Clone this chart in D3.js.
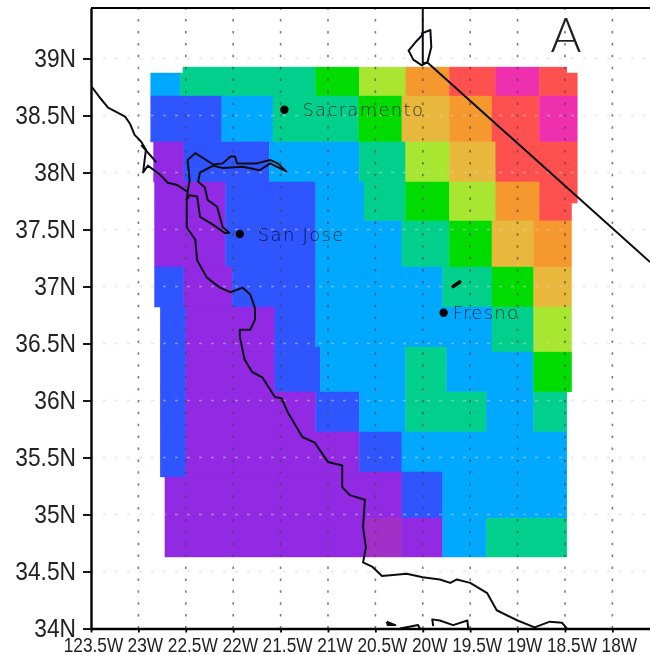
<!DOCTYPE html>
<html>
<head>
<meta charset="utf-8">
<script src="https://cdn.jsdelivr.net/npm/d3@7"></script>
<style>
    html, body { margin: 0; padding: 0; background: #fff; }
    svg { display: block; filter: blur(0.45px); }
    .tick-label { font-family: "Liberation Sans", Arial, sans-serif; fill: #222; }
    .city { font-family: "DejaVu Sans", sans-serif; font-size: 18px; letter-spacing: 1.3px; fill: #000; fill-opacity: 0.75; font-weight: 200; }
</style>
</head>
<body>
<div id="chart"></div>
<script>
// class colours, low to high
const levelColors = ["#a32fc9", "#9229e3", "#2e55ff", "#00a8ff", "#00d08c", "#00dc00", "#a8e632", "#e8b83c", "#f5982e", "#ff5050", "#ee2fae"];

const lonTicks = [123.5, 123, 122.5, 122, 121.5, 121, 120.5, 120, 119.5, 119, 118.5, 118];
const lonLabels = ["123.5W", "23W", "22.5W", "22W", "21.5W", "21W", "20.5W", "20W", "19.5W", "19W", "18.5W", "18W"];
const latTicks = [34, 34.5, 35, 35.5, 36, 36.5, 37, 37.5, 38, 38.5, 39];
const latLabels = ["34N", "34.5N", "35N", "35.5N", "36N", "36.5N", "37N", "37.5N", "38N", "38.5N", "39N"];

// grid rows, north to south: latitude edges, then lon edges and class per row
const rowLats = [38.925, 38.873, 38.671, 38.268, 37.917, 37.732, 37.575, 37.171, 36.82, 36.469, 36.425, 36.075, 35.724, 35.373, 35.329, 34.969, 34.627];
const rowLons = [
    [122.53, 121.13, 120.67, 120.18, 119.72, 119.23, 118.77, 118.48],
    [122.87, 122.56, 121.13, 120.67, 120.18, 119.72, 119.23, 118.77, 118.37],
    [122.87, 122.12, 121.58, 120.68, 120.22, 119.72, 119.27, 118.77, 118.37],
    [122.84, 122.52, 121.62, 120.67, 120.18, 119.72, 119.23, 118.37],
    [122.83, 122.08, 121.13, 120.62, 120.18, 119.72, 119.23, 118.77, 118.37],
    [122.83, 122.08, 121.13, 120.62, 120.18, 119.72, 119.23, 118.77, 118.43],
    [122.83, 122.08, 121.13, 120.22, 119.72, 119.27, 118.83, 118.43],
    [122.83, 122.52, 122.01, 121.13, 119.79, 119.27, 118.83, 118.43],
    [122.77, 122.5, 121.56, 121.13, 119.27, 118.83, 118.43],
    [122.77, 122.5, 121.56, 121.08, 120.18, 119.75, 119.27, 118.83, 118.43],
    [122.77, 122.5, 121.56, 121.08, 120.18, 119.75, 118.83, 118.43],
    [122.77, 122.5, 121.13, 120.67, 120.18, 119.33, 118.83, 118.48],
    [122.77, 122.5, 120.67, 120.22, 118.48],
    [122.77, 122.5, 120.22, 119.79, 118.48],
    [122.72, 120.22, 119.79, 118.48],
    [122.72, 120.6, 120.22, 119.79, 119.33, 118.48]
];
const rowLevels = [
    [4, 5, 6, 8, 9, 10, 9],
    [3, 4, 5, 6, 8, 9, 10, 9],
    [2, 3, 4, 5, 7, 8, 9, 10],
    [1, 2, 3, 4, 6, 7, 9],
    [1, 2, 3, 4, 5, 6, 8, 9],
    [1, 2, 3, 4, 5, 6, 8, 9],
    [1, 2, 3, 4, 5, 7, 8],
    [2, 1, 2, 3, 4, 5, 7],
    [2, 1, 2, 3, 4, 6],
    [2, 1, 2, 3, 4, 3, 4, 6],
    [2, 1, 2, 3, 4, 3, 5],
    [2, 1, 2, 3, 4, 3, 4],
    [2, 1, 2, 3],
    [2, 1, 2, 3],
    [1, 2, 3],
    [1, 0, 1, 3, 4]
];

// map outlines as [west lon, north lat]
const coast = [[123.49, 38.75], [123.41, 38.66], [123.32, 38.57], [123.14, 38.49], [123.09, 38.43], [123.04, 38.33], [122.97, 38.27], [122.92, 38.2], [122.93, 38.14], [122.95, 38.0], [122.9, 38.06], [122.77, 37.98], [122.69, 37.91], [122.59, 37.89], [122.48, 37.83], [122.49, 37.76], [122.49, 37.52], [122.4, 37.41], [122.38, 37.23], [122.28, 37.08], [122.14, 36.99], [122.03, 36.95], [121.9, 36.99], [121.82, 36.93], [121.77, 36.81], [121.77, 36.71], [121.82, 36.62], [121.93, 36.62], [121.93, 36.56], [121.88, 36.36], [121.8, 36.25], [121.69, 36.2], [121.56, 36.03], [121.49, 36.02], [121.42, 35.89], [121.27, 35.68], [121.14, 35.63], [121.0, 35.46], [120.85, 35.43], [120.85, 35.24], [120.77, 35.17], [120.61, 35.13], [120.63, 34.89], [120.6, 34.71], [120.63, 34.58], [120.53, 34.54], [120.43, 34.46], [120.17, 34.48], [120.0, 34.45], [119.82, 34.43], [119.71, 34.4], [119.64, 34.43], [119.5, 34.4], [119.32, 34.31], [119.22, 34.16], [119.0, 34.07], [118.82, 34.01], [118.66, 34.06], [118.53, 34.05], [118.48, 34.0]];
const bay = [[122.48, 37.83], [122.46, 37.93], [122.48, 38.11], [122.4, 38.17], [122.21, 38.07], [122.11, 38.08], [122.03, 38.14], [121.98, 38.14], [121.96, 38.08], [121.75, 38.08], [121.61, 38.11], [121.53, 38.08], [121.44, 38.01], [121.61, 38.08], [121.72, 38.02], [121.9, 38.05], [122.11, 38.04], [122.21, 38.06], [122.35, 38.0], [122.37, 37.92], [122.3, 37.87], [122.27, 37.76], [122.17, 37.7], [122.11, 37.52], [122.04, 37.47], [122.09, 37.47], [122.21, 37.54], [122.35, 37.61], [122.38, 37.79], [122.46, 37.8], [122.49, 37.76]];
const tomales = [[122.97, 38.24], [122.81, 38.09]];
const islandA = [[120.38, 34.06], [120.29, 34.03], [120.37, 34.03], [120.38, 34.06]];
const islandB = [[120.24, 34.0], [120.05, 34.03], [120.03, 34.0]];
const islandC = [[119.89, 34.02], [119.9, 34.08], [119.82, 34.07], [119.68, 34.03], [119.53, 34.07], [119.52, 34.0]];
const stateLine = [[120.0, 39.443], [120.0, 38.96], [119.945, 38.96], [117.603, 37.215]];
const tahoe = [[120.0, 39.21], [120.08, 39.14], [120.15, 39.07], [120.1, 38.99], [120.01, 38.94], [119.95, 38.97], [119.91, 39.1], [119.92, 39.25], [120.01, 39.22], [120.0, 39.21]];
const lake = [[119.68, 37.0], [119.61, 37.04]];

const cityNames = ["Sacramento", "San Jose", "Fresno"];
const cityLons = [121.46, 121.93, 119.78];
const cityLats = [38.55, 37.46, 36.77];
const cityLabelDx = [18, 18, 9];

const width = 650, height = 655;

let svg = d3.select('#chart').append('svg')
    .attr('width', width)
    .attr('height', height);

let x = d3.scaleLinear().domain([123.5, 117.603]).range([91, 650]);
let y = d3.scaleLinear().domain([34, 39.443]).range([628.5, 8]);
let color = d3.scaleOrdinal().domain(d3.range(levelColors.length)).range(levelColors);

// flatten the rows into cells
let cells = [];
rowLevels.forEach((levels, r) => {
    levels.forEach((level, i) => {
        cells.push({
            west: rowLons[r][i],
            east: rowLons[r][i + 1],
            north: rowLats[r],
            south: rowLats[r + 1],
            level: level
        });
    });
});

svg.append('g')
    .selectAll('rect')
    .data(cells)
    .enter()
    .append('rect')
    .attr('x', d => x(d.west))
    .attr('y', d => y(d.north))
    .attr('width', d => x(d.east) - x(d.west))
    .attr('height', d => y(d.south) - y(d.north))
    .attr('fill', d => color(d.level))
    .attr('stroke', d => color(d.level))
    .attr('stroke-width', 0.4);

// dotted grid
let grid = svg.append('g');
grid.selectAll('.hgrid')
    .data(latTicks.slice(1))
    .enter()
    .append('line')
    .attr('class', 'hgrid')
    .attr('x1', x(123.5)).attr('x2', width)
    .attr('y1', d => y(d)).attr('y2', d => y(d))
    .attr('stroke', '#d8d2d8')
    .attr('stroke-opacity', 0.5)
    .attr('stroke-width', 1.5)
    .attr('stroke-dasharray', '3 9');
grid.selectAll('.vgrid')
    .data(lonTicks.slice(1))
    .enter()
    .append('line')
    .attr('class', 'vgrid')
    .attr('x1', d => x(d)).attr('x2', d => x(d))
    .attr('y1', y(34)).attr('y2', y(39.443))
    .attr('stroke', '#444')
    .attr('stroke-opacity', 0.7)
    .attr('stroke-width', 1.6)
    .attr('stroke-dasharray', '2.5 9.4');

// map lines
let line = d3.line().x(d => x(d[0])).y(d => y(d[1]));
let outlines = [coast, bay, tomales, islandA, islandB, islandC, stateLine, tahoe];
svg.append('g')
    .selectAll('path')
    .data(outlines)
    .enter()
    .append('path')
    .attr('d', line)
    .attr('fill', 'none')
    .attr('stroke', '#0c0c14')
    .attr('stroke-width', 2)
    .attr('stroke-linejoin', 'round');
svg.append('path')
    .attr('d', line(lake))
    .attr('stroke', '#000')
    .attr('stroke-width', 3.5)
    .attr('stroke-linecap', 'round');

// cities
let cities = svg.append('g')
    .selectAll('g')
    .data(cityNames)
    .enter()
    .append('g')
    .attr('transform', (d, i) => 'translate(' + x(cityLons[i]) + ',' + y(cityLats[i]) + ')');
cities.append('circle')
    .attr('r', 4.2)
    .attr('fill', '#000');
cities.append('text')
    .attr('class', 'city')
    .attr('x', (d, i) => cityLabelDx[i])
    .attr('dy', '0.36em')
    .text(d => d);

// panel letter
svg.append('text')
    .attr('x', 566)
    .attr('y', 52)
    .attr('text-anchor', 'middle')
    .style('font-family', '"Lato", sans-serif')
    .style('font-size', '47px')
    .style('font-weight', 300)
    .style('fill', '#222')
    .text('A');

// axes
let xAxis = svg.append('g')
    .attr('transform', 'translate(0,' + y(34) + ')')
    .call(d3.axisBottom(x).tickValues(lonTicks).tickFormat((d, i) => lonLabels[i]).tickSize(4).tickSizeOuter(0));
xAxis.selectAll('text')
    .attr('class', 'tick-label')
    .style('font-size', '20px')
    .attr('y', 23.5)
    .attr('dy', 0)
    .attr('dx', d => (d === 123.5 ? 2 : 6.5))
    .attr('textLength', function () { return this.getComputedTextLength() * 0.865; })
    .attr('lengthAdjust', 'spacingAndGlyphs');

let yAxis = svg.append('g')
    .attr('transform', 'translate(' + x(123.5) + ',0)')
    .call(d3.axisLeft(y).tickValues(latTicks).tickFormat((d, i) => latLabels[i]).tickSize(8).tickSizeOuter(0));
yAxis.selectAll('text')
    .attr('class', 'tick-label')
    .style('font-size', '25px')
    .attr('x', -15)
    .attr('textLength', function () { return this.getComputedTextLength() * 0.91; })
    .attr('lengthAdjust', 'spacingAndGlyphs');

svg.selectAll('.domain').attr('stroke', '#000').attr('stroke-width', 2.4);
svg.selectAll('.tick line').attr('stroke', '#000').attr('stroke-width', 1.8);

// top of the frame
svg.append('line')
    .attr('x1', x(123.5)).attr('x2', width)
    .attr('y1', y(39.443)).attr('y2', y(39.443))
    .attr('stroke', '#000')
    .attr('stroke-width', 1.8);
</script>
</body>
</html>
